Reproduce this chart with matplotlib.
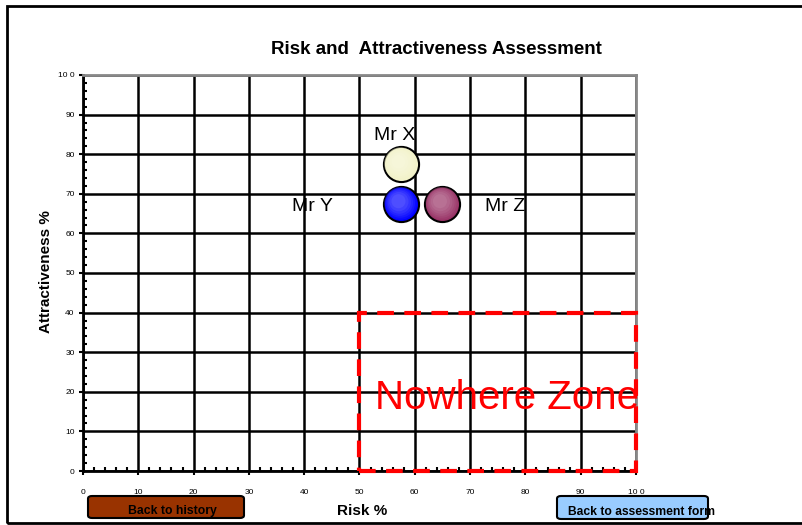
import numpy as np
import matplotlib
matplotlib.use("Agg")
import matplotlib.pyplot as plt
from matplotlib.patches import Rectangle, FancyBboxPatch
from matplotlib.colors import to_rgb

plt.rcParams['font.family'] = ['Liberation Sans', 'DejaVu Sans']

# people assessed: risk % vs attractiveness %
names = ["Mr X", "Mr Y", "Mr Z"]
risk = [57.5, 57.5, 65.0]
attract = [77.5, 67.5, 67.5]
colours = ["#f2f2c8", "#0000ff", "#993366"]

ticks = list(range(0, 101, 10))
tick_labels = ["0", "10", "20", "30", "40", "50", "60", "70", "80", "90", "10 0"]
zone_x = (50, 100)
zone_y = (0, 40)

fig = plt.figure(figsize=(8.02, 5.25), dpi=100)
W, H = 802, 525

# outer frame
fig.add_artist(Rectangle((7 / W, 1 - 523 / H), 1.2, (523 - 6) / H, transform=fig.transFigure,
                         fill=False, edgecolor="black", linewidth=2))

ax = fig.add_axes([83 / W, 1 - 471 / H, 553 / W, 396 / H])
ax.set_xlim(0, 100)
ax.set_ylim(0, 100)
ax.set_xticks(ticks)
ax.set_xticklabels(tick_labels, fontsize=6)
ax.set_yticks(ticks)
ax.set_yticklabels(tick_labels, fontsize=6)
ax.set_xticks(np.arange(0, 101, 2), minor=True)
ax.set_yticks(np.arange(0, 101, 2), minor=True)
ax.tick_params(axis="x", which="major", direction="out", length=3, width=1.5, pad=10)
ax.tick_params(axis="y", which="major", direction="out", length=3, width=1.5, pad=3)
ax.tick_params(which="minor", direction="in", length=3, width=1.5)
ax.grid(True, which="major", color="black", linewidth=1.8)
ax.set_axisbelow(True)
for side in ["left", "bottom"]:
    ax.spines[side].set_linewidth(2)
for side in ["top", "right"]:
    ax.spines[side].set_color("#888888")
    ax.spines[side].set_linewidth(2)

# nowhere zone
ax.add_patch(Rectangle((zone_x[0], zone_y[0]), zone_x[1] - zone_x[0], zone_y[1] - zone_y[0],
                       fill=False, edgecolor="red", linewidth=3, linestyle=(0, (4, 2.5)),
                       zorder=5, clip_on=False))
ax.text(76.7, 18.5, "Nowhere Zone", color="red", fontsize=29, ha="center", va="center", zorder=6)

# shaded spheres
for x, y, c in zip(risk, attract, colours):
    base = np.array(to_rgb(c))
    ax.scatter([x], [y], s=640, color=c, edgecolors="black", linewidths=1.5, zorder=7)
    for k, f in enumerate(np.linspace(0.15, 0.6, 6)):
        size = 640 * (1 - 0.14 * (k + 1))
        shade = base + (1 - base) * f * 0.6
        ax.scatter([x - 0.25 * (k + 1) * 0.3], [y + 0.35 * (k + 1) * 0.3], s=size,
                   color=shade, edgecolors="none", zorder=8, alpha=0.5)

ax.text(risk[0] - 1.1, attract[0] + 7.3, names[0], fontsize=14, ha="center", va="center", zorder=9)
ax.text(risk[1] - 16.1, attract[1] - 0.7, names[1], fontsize=14, ha="center", va="center", zorder=9)
ax.text(risk[2] + 11.3, attract[2] - 0.7, names[2], fontsize=14, ha="center", va="center", zorder=9)

fig.text(436 / W, 1 - 49 / H, "Risk and  Attractiveness Assessment", fontsize=13.5,
         fontweight="bold", ha="center", va="center")
fig.text(362 / W, 1 - 511 / H, "Risk %", fontsize=11, fontweight="bold", ha="center", va="center")
fig.text(46 / W, 1 - 272 / H, "Attractiveness %", fontsize=11, fontweight="bold",
         ha="center", va="center", rotation=90)

# navigation buttons
fig.add_artist(FancyBboxPatch((88 / W, 1 - 518 / H), 156 / W, 22 / H,
                              boxstyle="round,pad=0,rounding_size=0.005", transform=fig.transFigure,
                              facecolor="#993300", edgecolor="black", linewidth=1.5))
fig.text(172 / W, 1 - 511 / H, "Back to history", fontsize=8.8, fontweight="bold",
         ha="center", va="center")
fig.add_artist(FancyBboxPatch((557 / W, 1 - 519 / H), 151 / W, 23 / H,
                              boxstyle="round,pad=0,rounding_size=0.005", transform=fig.transFigure,
                              facecolor="#99ccff", edgecolor="black", linewidth=1.5))
fig.text(568 / W, 1 - 512 / H, "Back to assessment form", fontsize=8.7, fontweight="bold",
         ha="left", va="center")

fig.savefig("out.png", dpi=100)
